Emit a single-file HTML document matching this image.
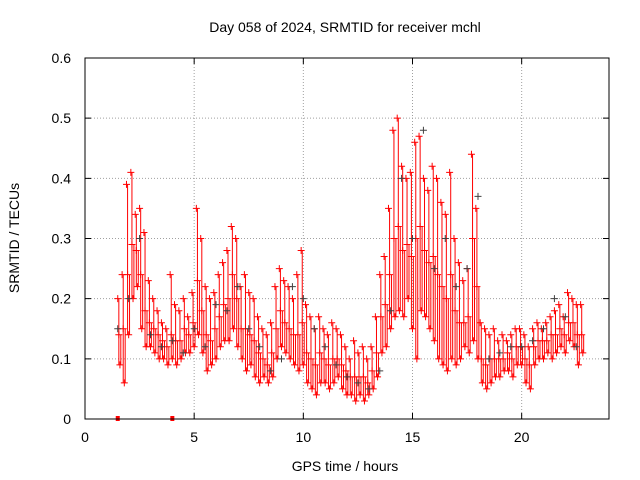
<!DOCTYPE html>
<html><head><meta charset="utf-8"><style>
html,body{margin:0;padding:0;background:#fff;}
svg{display:block;font-family:"Liberation Sans",sans-serif;}
</style></head><body>
<svg id="chart" width="640" height="480" viewBox="0 0 640 480">
<rect width="640" height="480" fill="#fff"/>
<text x="345" y="32" font-size="14" text-anchor="middle">Day 058 of 2024, SRMTID for receiver mchl</text>
<text x="345" y="471" font-size="14" text-anchor="middle">GPS time / hours</text>
<text transform="translate(19,238) rotate(-90)" font-size="14" text-anchor="middle">SRMTID / TECUs</text>
<g id="grid"></g>
<g id="axes"></g>
<g id="red"></g>
<g id="black"></g>
<rect x="85" y="58" width="524" height="361" fill="none" stroke="#000"/>
</svg>
<script>
const xTicks=[0,5,10,15,20];
const yTicks=[0,0.1,0.2,0.3,0.4,0.5,0.6];
const yTickLabels=["0","0.1","0.2","0.3","0.4","0.5","0.6"];
const redStart=1.5, redStep=0.2;
const redHi=[0.20,0.24,0.39,0.41,0.34,0.35,0.31,0.23,0.20,0.18,0.16,0.15,0.24,0.19,0.18,0.20,0.17,0.21,0.35,0.30,0.22,0.20,0.21,0.24,0.26,0.28,0.32,0.30,0.22,0.24,0.21,0.20,0.17,0.15,0.14,0.16,0.22,0.25,0.23,0.22,0.20,0.24,0.28,0.19,0.17,0.15,0.17,0.15,0.14,0.16,0.15,0.14,0.12,0.10,0.13,0.11,0.12,0.10,0.12,0.17,0.24,0.27,0.35,0.48,0.50,0.42,0.40,0.41,0.46,0.47,0.40,0.38,0.42,0.40,0.36,0.34,0.41,0.30,0.26,0.23,0.25,0.44,0.35,0.16,0.15,0.14,0.15,0.13,0.14,0.13,0.14,0.15,0.15,0.14,0.12,0.15,0.16,0.15,0.16,0.17,0.18,0.19,0.17,0.21,0.20,0.19,0.19];
const redMid=[0.14,0.15,0.24,0.29,0.28,0.24,0.18,0.16,0.15,0.14,0.13,0.12,0.14,0.13,0.13,0.15,0.14,0.16,0.23,0.18,0.14,0.13,0.15,0.17,0.19,0.20,0.24,0.20,0.15,0.15,0.14,0.13,0.11,0.10,0.09,0.11,0.15,0.18,0.16,0.15,0.14,0.14,0.16,0.11,0.10,0.09,0.11,0.10,0.09,0.10,0.10,0.09,0.08,0.07,0.07,0.07,0.07,0.06,0.08,0.11,0.17,0.19,0.24,0.30,0.32,0.28,0.29,0.27,0.30,0.32,0.28,0.26,0.27,0.24,0.22,0.20,0.24,0.18,0.16,0.16,0.17,0.30,0.22,0.10,0.09,0.10,0.10,0.10,0.10,0.11,0.10,0.12,0.12,0.10,0.09,0.12,0.13,0.13,0.13,0.14,0.14,0.15,0.14,0.16,0.16,0.14,0.14];
const redLo=[0.09,0.06,0.14,0.20,0.22,0.15,0.12,0.12,0.11,0.10,0.10,0.09,0.10,0.09,0.10,0.11,0.11,0.12,0.14,0.11,0.08,0.09,0.10,0.12,0.13,0.13,0.15,0.12,0.10,0.08,0.09,0.07,0.06,0.07,0.06,0.07,0.10,0.12,0.11,0.10,0.09,0.08,0.09,0.06,0.05,0.04,0.06,0.06,0.05,0.06,0.07,0.05,0.04,0.04,0.03,0.04,0.03,0.04,0.05,0.07,0.11,0.12,0.15,0.17,0.18,0.17,0.20,0.15,0.10,0.18,0.17,0.15,0.13,0.10,0.09,0.08,0.10,0.09,0.10,0.12,0.11,0.13,0.10,0.06,0.05,0.06,0.07,0.07,0.08,0.08,0.07,0.09,0.09,0.06,0.05,0.09,0.10,0.10,0.11,0.10,0.11,0.12,0.11,0.13,0.12,0.09,0.11];
const blackStart=1.5, blackStep=0.5;
const blackVals=[0.15,0.20,0.30,0.14,0.12,0.13,0.11,0.15,0.12,0.19,0.18,0.22,0.15,0.12,0.08,0.10,0.22,0.20,0.15,0.12,0.09,0.07,0.06,0.05,0.08,0.18,0.40,0.30,0.48,0.25,0.30,0.22,0.25,0.37,0.10,0.11,0.12,0.12,0.13,0.15,0.20,0.17,0.12];
const zeroMarksT=[1.5,4.0];

const NS="http://www.w3.org/2000/svg";
const X0=85,X1=609,Y0=419,Y1=58;
const xs=t=>X0+(t/24)*(X1-X0);
const ys=v=>Y0-(v/0.6)*(Y0-Y1);
function mk(tag,attrs,parent){const e=document.createElementNS(NS,tag);for(const k in attrs)e.setAttribute(k,attrs[k]);parent.appendChild(e);return e;}
const grid=document.getElementById('grid'),axes=document.getElementById('axes');
xTicks.forEach(t=>{
  const x=xs(t);
  if(t>0){const g=mk('line',{x1:x,x2:x,y1:Y1,y2:Y0,stroke:'#a0a0a0','stroke-dasharray':'1,2'},grid);
  
  }
  const tk=mk('path',{d:`M${x},${Y0}v-6M${x},${Y1}v6`,stroke:'#000'},axes);
  
  
  const l=mk('text',{x:x,y:Y0+23,'font-size':14,'text-anchor':'middle'},axes);l.textContent=String(t);
  
  
});
yTicks.forEach((v,i)=>{
  const y=ys(v);
  if(v>0&&v<0.6){const g=mk('line',{x1:X0,x2:X1,y1:y,y2:y,stroke:'#a0a0a0','stroke-dasharray':'1,2'},grid);
  
  }
  const tk=mk('path',{d:`M${X0},${y}h6M${X1},${y}h-6`,stroke:'#000'},axes);
  
  
  const l=mk('text',{x:X0-14,y:y+5,'font-size':14,'text-anchor':'end'},axes);l.textContent=yTickLabels[i];
  
  
});
function plus(t,v,color,parent,name){
  const x=xs(t),y=ys(v);
  const p=mk('path',{d:`M${x-3.5},${y}h7M${x},${y-3.5}v7`,stroke:color,'stroke-width':1},parent);
  
  
}
const blk=document.getElementById('black'),red=document.getElementById('red');
const n=Math.min(redHi.length,redMid.length,redLo.length);
for(let i=0;i<n;i++){
  const t=redStart+i*redStep;
  const b1=mk('line',{x1:xs(t+0.05),x2:xs(t+0.05),y1:ys(redLo[i]),y2:ys(redHi[i]),stroke:'#ff0000','stroke-width':1},red);
  
  
  const b2=mk('line',{x1:xs(t+0.14),x2:xs(t+0.14),y1:ys(redLo[i]),y2:ys(redMid[i]),stroke:'#ff0000','stroke-width':1},red);
  
  
  plus(t,redHi[i],'#ff0000',red,'red-point');
  plus(t+0.05,redMid[i],'#ff0000',red,'red-point');
  plus(t+0.1,redLo[i],'#ff0000',red,'red-point');
}
blackVals.forEach((v,i)=>plus(blackStart+i*blackStep,v,'#404040',blk,'black-point'));
zeroMarksT.forEach(t=>{
  const r=mk('rect',{x:xs(t)-2,y:Y0-3,width:4,height:5,fill:'#ff0000'},red);
  
  
});
</script>
</body></html>
